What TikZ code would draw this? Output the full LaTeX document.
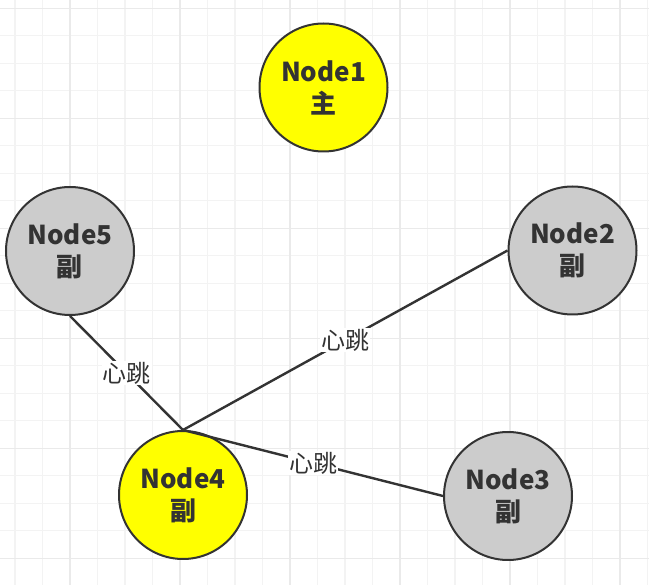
\documentclass[tikz,border=0pt]{standalone}
\usepackage{fontspec}
\setmainfont{Noto Sans CJK SC}
\definecolor{gridminor}{HTML}{F3F3F3}
\definecolor{gridmajor}{HTML}{EAEAEA}
\definecolor{ink}{HTML}{333333}
\definecolor{nodeyellow}{HTML}{FFFF00}
\definecolor{nodegray}{HTML}{CCCCCC}
\begin{document}
\begin{tikzpicture}[x=1pt,y=-1pt,
  nodecircle/.style={circle,draw=ink,line width=2pt,minimum size=128pt,inner sep=0pt,
    align=center,text=ink,font=\fontsize{26}{32}\selectfont\bfseries},
  primary/.style={nodecircle,fill=nodeyellow},
  secondary/.style={nodecircle,fill=nodegray},
  link/.style={draw=ink,line width=2.4pt},
  beat/.style={fill=white,inner sep=1pt,text=ink,font=\fontsize{24}{26}\selectfont}]
\useasboundingbox (0,0) rectangle (649,585);
\fill[white] (0,0) rectangle (649,585);
% minor grid
\foreach \i in {0,...,23} {
  \draw[gridminor,line width=1.2pt] ({15+27.5*\i},0) -- ({15+27.5*\i},585);
}
\foreach \j in {0,...,21} {
  \draw[gridminor,line width=1.2pt] (0,{8.3+27.5*\j}) -- (649,{8.3+27.5*\j});
}
% major grid
\foreach \i in {0,...,5} {
  \draw[gridmajor,line width=1.4pt] ({70+110*\i},0) -- ({70+110*\i},585);
}
\foreach \j in {0,...,5} {
  \draw[gridmajor,line width=1.4pt] (0,{8.3+110*\j}) -- (649,{8.3+110*\j});
}
\node[primary]   (n1) at (323.5,87.5) {Node1\\主};
\node[secondary] (n5) at (70,251)   {Node5\\副};
\node[secondary] (n2) at (572.5,250.5) {Node2\\副};
\node[primary]   (n4) at (183,495)  {Node4\\副};
\node[secondary] (n3) at (508,496)  {Node3\\副};
\draw[link] (n4.north) -- node[beat] {心跳} (n5.south);
\draw[link] (n4.north) -- node[beat] {心跳} (n2.west);
\draw[link] (n4.north) -- node[beat] {心跳} (n3.west);
\end{tikzpicture}
\end{document}
